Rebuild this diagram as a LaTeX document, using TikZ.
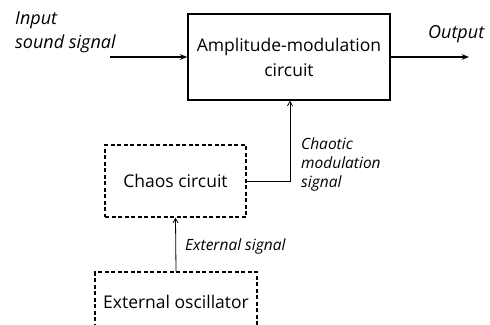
\documentclass[tikz,border=0pt]{standalone}
\usepackage{fontspec}
\setmainfont{Open Sans}
\usetikzlibrary{arrows.meta,positioning}
\tikzset{
  block/.style={draw,line width=1.3pt,minimum width=#1,align=center,
    font=\fontsize{17.5}{25}\selectfont},
  dash box/.style={draw,line width=1.3pt,dash pattern=on 4pt off 2.5pt,
    minimum width=#1,align=center,font=\fontsize{17.5}{22}\selectfont},
  lbl/.style={font=\fontsize{15.5}{19}\selectfont\itshape,align=left,inner sep=0pt},
  io lbl/.style={font=\fontsize{18}{24}\selectfont\itshape,align=left,inner sep=0pt},
  main arrow/.style={-{Stealth[length=2.6mm,width=2mm]},line width=1.1pt},
  thin arrow/.style={-{Straight Barb[length=1.6mm,width=1.8mm]},line width=0.8pt},
}
\begin{document}
\begin{tikzpicture}[x=1pt,y=-1pt]
  \useasboundingbox (0,0) rectangle (490,324);
  \clip (0,0) rectangle (490,324);
  % blocks
  \node[block=202pt,minimum height=86pt] (am) at (289,57) {Amplitude-modulation\\circuit};
  \node[dash box=141pt,minimum height=72pt] (cc) at (175.5,181) {Chaos circuit};
  \node[dash box=162pt,minimum height=60pt] (eo) at (176,302) {External oscillator};
  % signals
  \coordinate (in) at (110,57);
  \coordinate (out) at (469,57);
  \coordinate (bend) at (290,181);
  \draw[main arrow] (in) -- (am.west);
  \draw[main arrow] (am.east) -- (out);
  \draw[thin arrow] (cc.east) -- (bend) -- (bend |- am.south);
  \draw[thin arrow] (eo.north) -- (cc.south);
  % labels
  \node[io lbl,anchor=north west] (lin) at (15,11) {Input\\sound signal};
  \node[io lbl,anchor=north west] (lout) at (428,25) {Output};
  \node[lbl,anchor=north west] (lchaos) at (301,138) {Chaotic\\modulation\\signal};
  \node[lbl,anchor=west] (lext) at (185,246) {External signal};
\end{tikzpicture}
\end{document}
